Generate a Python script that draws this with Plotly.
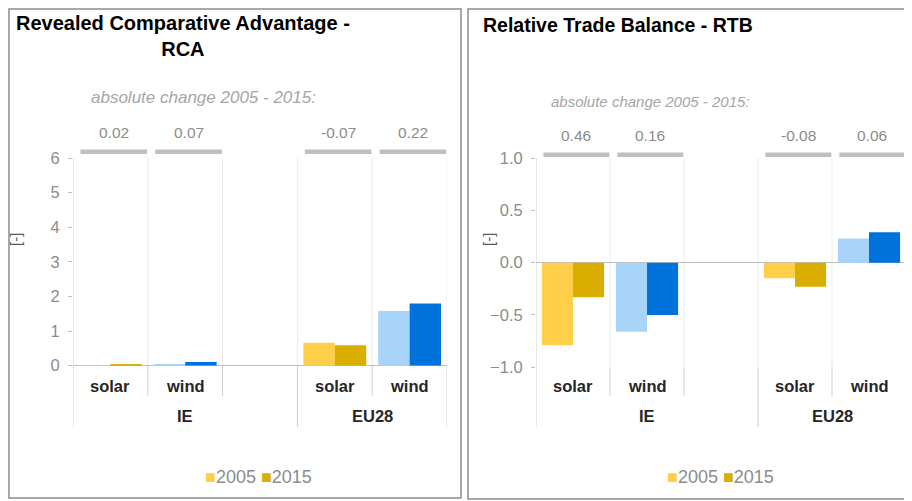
import plotly.graph_objects as go
from plotly.subplots import make_subplots

# slots along the x axis (the empty slot separates the two groups)
GROUPS = ["IE", "IE", "IE", "EU28", "EU28"]
TECHS = ["solar", "wind", "", "solar", "wind"]

RCA_2005 = [0.02, 0.04, None, 0.66, 1.58]
RCA_2015 = [0.05, 0.11, None, 0.59, 1.80]
RCA_CHANGE = [0.02, 0.07, None, -0.07, 0.22]

RTB_2005 = [-0.79, -0.66, None, -0.15, 0.23]
RTB_2015 = [-0.33, -0.50, None, -0.23, 0.29]
RTB_CHANGE = [0.46, 0.16, None, -0.08, 0.06]

YEARS = ["2005", "2015"]
COLORS = {
    "2005": {"solar": "#FFCF4A", "wind": "#A8D4FA"},
    "2015": {"solar": "#D9AE00", "wind": "#0072DC"},
}

W, H = 912, 501
OFF = 8  # the page body adds an 8px margin
FONT = "Liberation Sans, Arial, sans-serif"


def px(x):
    return (x - OFF) / W


def py(y):
    return 1 - (y - OFF) / H


slots = [f"{g}|{t or 'gap'}" for g, t in zip(GROUPS, TECHS)]

fig = make_subplots(rows=1, cols=2)

panels = [
    dict(col=1, v05=RCA_2005, v15=RCA_2015, chg=RCA_CHANGE,
         title="Revealed Comparative Advantage -<br>RCA", title_x=183, title_size=20,
         sub_x=203, sub_y=97, sub_size=17, val_y=133, bar_y=(149.5, 154),
         box=(73, 447, 158, 365.7), yl_x=15, leg_x=258,
         frame=(9, 461, 9, 498)),
    dict(col=2, v05=RTB_2005, v15=RTB_2015, chg=RTB_CHANGE,
         title="Relative Trade Balance - RTB", title_x=None, title_size=19.5,
         sub_x=650, sub_y=101, sub_size=15, val_y=135, bar_y=(152.5, 157),
         box=(536, 906, 158, 367.3), yl_x=488, leg_x=720,
         frame=(468, 920, 9, 499)),
]

for p in panels:
    for year, vals in zip(YEARS, (p["v05"], p["v15"])):
        fig.add_trace(
            go.Bar(
                x=slots, y=vals, name=year,
                marker=dict(color=[COLORS[year].get(t, "#ffffff") for t in TECHS],
                            line_width=0),
                showlegend=False,
                hovertemplate="%{x}<br>" + year + ": %{y:.2f}<extra></extra>",
            ),
            row=1, col=p["col"],
        )

    n = "" if p["col"] == 1 else "2"
    xr = "x" + n
    x0, x1, ytop, ybot = p["box"]

    # frame around each panel
    fx0, fx1, fy0, fy1 = p["frame"]
    fig.add_shape(type="rect", xref="paper", yref="paper",
                  x0=px(fx0), x1=px(fx1), y0=py(fy1), y1=py(fy0),
                  line=dict(color="#8c8c8c", width=1.5), layer="below")

    # slot separators: light in the plot, darker through the label rows
    for b in [-0.5, 0.5, 1.5, 2.5, 3.5, 4.5]:
        outer = b in (-0.5, 2.5, 4.5)
        fig.add_shape(type="line", xref=xr, yref="paper", x0=b, x1=b,
                      y0=py(ybot), y1=py(ytop),
                      line=dict(color="#d0d0d0" if b == -0.5 else "#ebebeb", width=1),
                      layer="below")
        fig.add_shape(type="line", xref=xr, yref="paper", x0=b, x1=b,
                      y0=py(427 if outer else 396), y1=py(ybot),
                      line=dict(color="#d0d0d0", width=1), layer="below")

    # grey change bars with their values
    for i, c in enumerate(p["chg"]):
        if c is None:
            continue
        fig.add_shape(type="rect", xref=xr, yref="paper",
                      x0=i - 0.4, x1=i + 0.49,
                      y0=py(p["bar_y"][1]), y1=py(p["bar_y"][0]),
                      fillcolor="#bfbfbf", line_width=0)
        fig.add_annotation(xref=xr, yref="paper", x=i + 0.045, y=py(p["val_y"]),
                           xanchor="center", yanchor="middle", text=f"{c:.2f}",
                           showarrow=False, font=dict(size=15.5, color="#8c8c8c"))

    # category labels
    for i, t in enumerate(TECHS):
        if t:
            fig.add_annotation(xref=xr, yref="paper", x=i, y=py(386),
                               xanchor="center", yanchor="middle",
                               text=f"<b>{t}</b>", showarrow=False,
                               font=dict(size=16.5, color="#262626"))
    for g in dict.fromkeys(GROUPS):
        idx = [i for i, gg in enumerate(GROUPS) if gg == g]
        fig.add_annotation(xref=xr, yref="paper", x=sum(idx) / len(idx), y=py(416),
                           xanchor="center", yanchor="middle",
                           text=f"<b>{g}</b>", showarrow=False,
                           font=dict(size=16.5, color="#262626"))

    fig.add_annotation(xref="paper", yref="paper", x=px(p["sub_x"]), y=py(p["sub_y"]),
                       xanchor="center", yanchor="middle",
                       text="<i>absolute change 2005 - 2015:</i>", showarrow=False,
                       font=dict(size=p["sub_size"], color="#a6a6a6"))

    # title
    if p["title_x"]:
        fig.add_annotation(xref="paper", yref="paper", x=px(p["title_x"]), y=py(36),
                           xanchor="center", yanchor="middle",
                           text=f"<b>{p['title']}</b>", showarrow=False, align="center",
                           font=dict(size=p["title_size"], color="#000000"))
    else:
        fig.add_annotation(xref="paper", yref="paper", x=px(481), y=py(25),
                           xanchor="left", yanchor="middle",
                           text=f"<b>{p['title']}</b>", showarrow=False,
                           font=dict(size=p["title_size"], color="#000000"))

    fig.add_annotation(xref="paper", yref="paper", x=px(p["yl_x"]), y=py(240),
                       xanchor="center", yanchor="middle",
                       text="[-]", textangle=-90, showarrow=False,
                       font=dict(size=15, color="#595959"))

    # legend
    leg = " ".join(f"<span style='color:{COLORS[y]['solar']}'>■</span>{y}" for y in YEARS)
    fig.add_annotation(xref="paper", yref="paper", x=px(p["leg_x"]), y=py(477),
                       xanchor="center", yanchor="middle", text=leg, showarrow=False,
                       font=dict(size=18, color="#8c8c8c"))

    fig.update_xaxes(domain=[px(x0), px(x1)], type="category", categoryarray=slots,
                     range=[-0.5, 4.5], showticklabels=False, showgrid=False,
                     zeroline=False, showline=False, fixedrange=True,
                     automargin=False, row=1, col=p["col"])
    fig.update_yaxes(domain=[py(ybot), py(ytop)], showgrid=False,
                     zeroline=True, zerolinecolor="#bfbfbf", zerolinewidth=1.3,
                     ticks="outside", ticklen=4, tickcolor="#bfbfbf",
                     ticklabelstandoff=5,
                     tickfont=dict(size=16.5, color="#8c8c8c"),
                     showline=False, fixedrange=True, automargin=False,
                     row=1, col=p["col"])

fig.update_yaxes(range=[0, 6], dtick=1, row=1, col=1)
fig.update_yaxes(range=[-1, 1], dtick=0.5, tickformat=".1f", row=1, col=2)

fig.update_layout(
    width=W, height=H,
    margin=dict(l=0, r=0, t=0, b=0),
    paper_bgcolor="#ffffff", plot_bgcolor="rgba(0,0,0,0)",
    barmode="group", bargap=0.16, bargroupgap=0,
    font=dict(family=FONT),
    showlegend=False,
)

fig.write_html("out.html")
